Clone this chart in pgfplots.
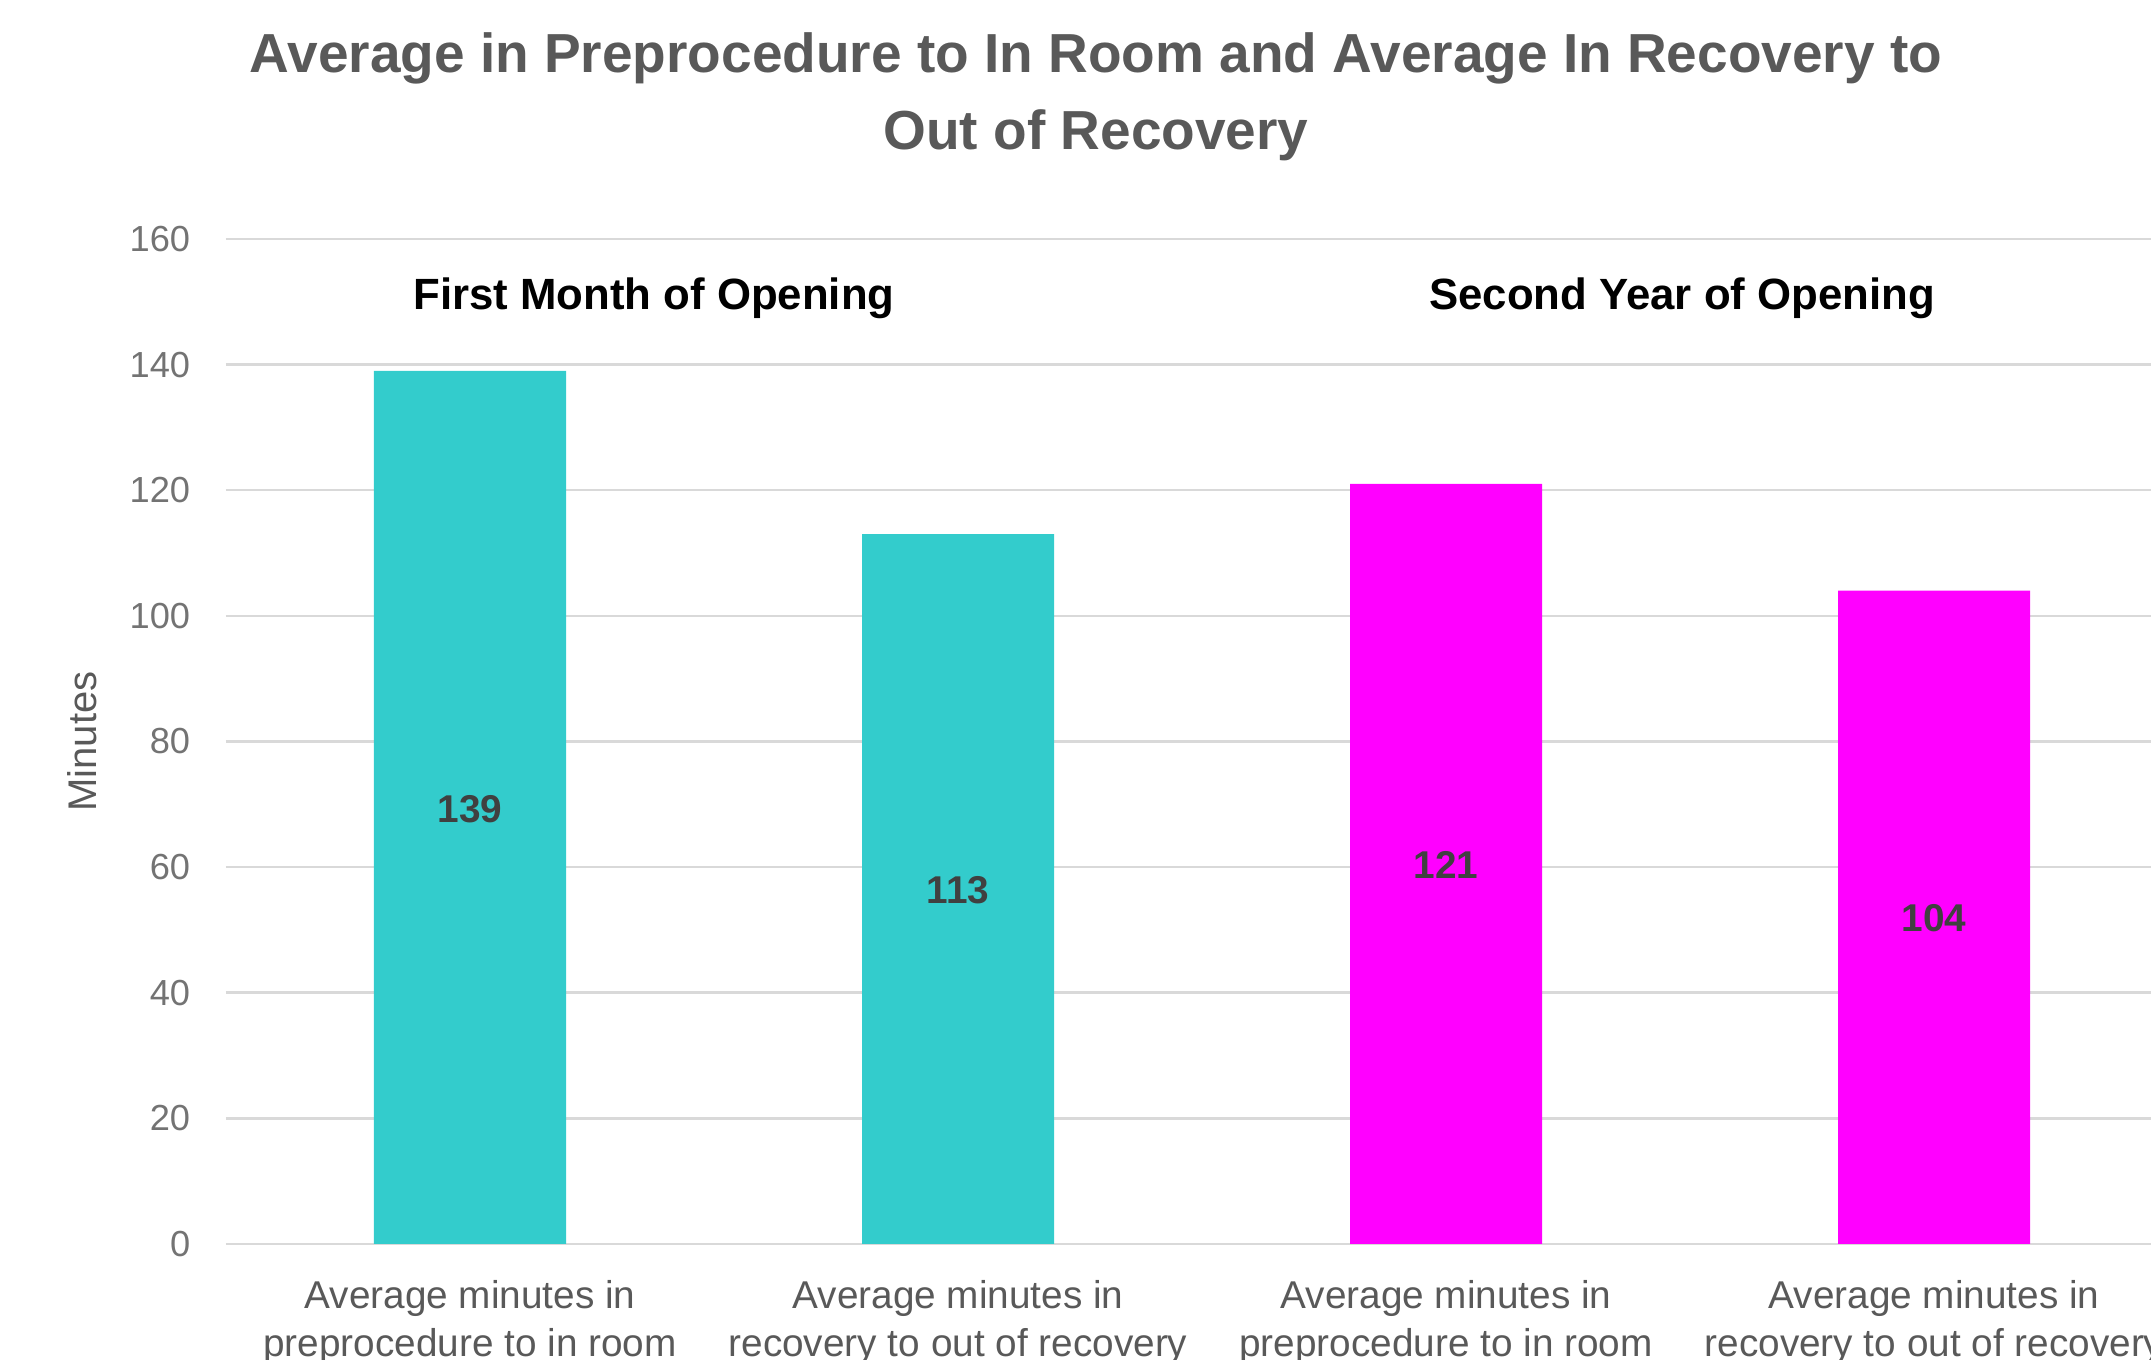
\documentclass[border=0pt]{standalone}
\usepackage{fontspec}
\setmainfont{Liberation Sans}
\usepackage{pgfplots}
\pgfplotsset{compat=1.18}
\definecolor{tealbar}{HTML}{33CCCC}
\definecolor{magbar}{HTML}{FF00FF}
\definecolor{gridc}{HTML}{D9D9D9}
\definecolor{titlec}{HTML}{595959}
\definecolor{tickc}{HTML}{737373}
\definecolor{catc}{HTML}{595959}
\definecolor{lblc}{HTML}{404040}
\begin{document}
\begin{tikzpicture}
\useasboundingbox (0,0) rectangle (860.4pt,544pt);
\clip (0,0) rectangle (860.4pt,544pt);
\begin{axis}[
  at={(90.4pt,46.4pt)}, anchor=south west,
  scale only axis, width=780.8pt, height=402pt,
  xmin=-0.5, xmax=3.5, ymin=0, ymax=160,
  ytick={0,20,...,160},
  xtick={0,1,2,3},
  xticklabels={{Average minutes in\\preprocedure to in room},
               {Average minutes in\\recovery to out of recovery},
               {Average minutes in\\preprocedure to in room},
               {Average minutes in\\recovery to out of recovery}},
  xticklabel style={align=center, text=catc, font=\fontsize{15.5}{19.2}\selectfont, yshift=-11.2pt},
  yticklabel style={text=tickc, font=\fontsize{14.5}{17}\selectfont, xshift=-10.8pt},
  /pgf/number format/assume math mode=true,
  axis line style={draw=none},
  major tick style={draw=none},
  ymajorgrids, grid style={gridc, line width=1pt},
  ylabel={Minutes},
  every axis y label/.style={at={(axis description cs:-0.0738,0.5)}, rotate=90, anchor=center, text=titlec, font=\fontsize{16}{19}\selectfont},
  clip=false,
]
\addplot[ybar, bar width=76.8pt, bar shift=0pt, fill=tealbar, draw=none] coordinates {(0,139) (1,113)};
\addplot[ybar, bar width=76.8pt, bar shift=0pt, fill=magbar, draw=none] coordinates {(2,121) (3,104)};
\addplot[draw=none, mark=none, nodes near coords, point meta=explicit symbolic,
  every node near coord/.style={anchor=center, text=lblc, font=\bfseries\fontsize{15.5}{18}\selectfont}]
  coordinates {(0,69.3)[139] (1,56.3)[113] (2,60.3)[121] (3,51.8)[104]};
\node[anchor=base, font=\bfseries\fontsize{17.5}{20}\selectfont] at (axis cs:0.377,148.7) {First Month of Opening};
\node[anchor=base, font=\bfseries\fontsize{17.5}{20}\selectfont] at (axis cs:2.484,148.7) {Second Year of Opening};
\end{axis}
\node[anchor=base, text=titlec, font=\bfseries\fontsize{22}{26}\selectfont] at (438.4pt,514.8pt) {Average in Preprocedure to In Room and Average In Recovery to};
\node[anchor=base, text=titlec, font=\bfseries\fontsize{22}{26}\selectfont] at (438.4pt,484pt) {Out of Recovery};
\end{tikzpicture}
\end{document}
